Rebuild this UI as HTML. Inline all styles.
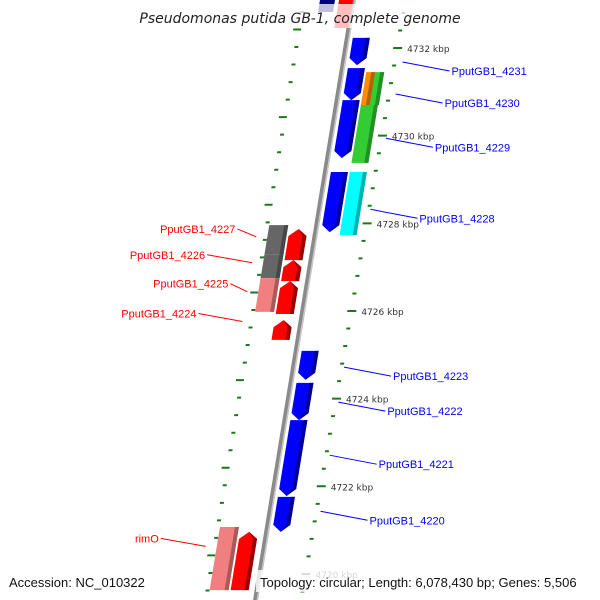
<!DOCTYPE html>
<html><head><meta charset="utf-8"><style>
html,body{margin:0;padding:0;background:#fff;}
svg{display:block;font-family:"DejaVu Sans","Liberation Sans",sans-serif;}
</style></head><body>
<svg id="chart" width="600" height="600" viewBox="0 0 600 600" xmlns="http://www.w3.org/2000/svg">
<g id="map"></g>
<g id="labels"></g>
<rect x="140" y="4" width="330" height="24" fill="#fff" fill-opacity="0.75"/>
<text x="300" y="23" text-anchor="middle" font-size="14" font-style="italic" fill="#222">Pseudomonas putida GB-1, complete genome</text>
<rect x="4" y="570" width="148" height="22" fill="#fff" fill-opacity="0.8"/>
<text x="9" y="587" font-size="13" fill="#111" font-family="Liberation Sans, sans-serif">Accession: NC_010322</text>
<rect x="256" y="570" width="340" height="22" fill="#fff" fill-opacity="0.8"/>
<text x="260" y="587" font-size="13" fill="#111" font-family="Liberation Sans, sans-serif">Topology: circular; Length: 6,078,430 bp; Genes: 5,506</text>
</svg>
<script>
// data (kbp)
const posGenesStart = [4732.23, 4731.54, 4730.81, 4729.17, 4725.09, 4724.36, 4723.51, 4721.76];
const posGenesEnd   = [4731.61, 4730.81, 4729.49, 4727.80, 4724.43, 4723.51, 4721.78, 4720.96];
const ring2Start = [4731.45, 4731.45, 4730.70, 4729.17];
const ring2End   = [4730.70, 4730.70, 4729.38, 4727.73];
const ring2Color = ["#ff8c00", "#33cc33", "#33cc33", "#00ffff"];
const ring2Half  = [1, 2, 0, 0];
const negGenesStart = [4727.87, 4727.16, 4726.68, 4725.79, 4720.96];
const negGenesEnd   = [4727.16, 4726.68, 4725.93, 4725.34, 4719.63];
const negRing2Start = [4727.96, 4727.28, 4726.75, 4721.07];
const negRing2End   = [4727.28, 4726.75, 4725.98, 4719.63];
const negRing2Color = ["#666666", "#666666", "#f08080", "#f08080"];
const tickLabels = [4732, 4730, 4728, 4726, 4724, 4722, 4720];
const rightLabels = ["PputGB1_4231","PputGB1_4230","PputGB1_4229","PputGB1_4228","PputGB1_4223","PputGB1_4222","PputGB1_4221","PputGB1_4220"];
const rightLabelKbp = [4731.68, 4730.95, 4729.94, 4728.32, 4724.72, 4723.92, 4722.71, 4721.43];
const leftLabels = ["PputGB1_4227","PputGB1_4226","PputGB1_4225","PputGB1_4224","rimO"];
const leftLabelKbp = [4727.69, 4727.10, 4726.44, 4725.76, 4720.63];
const leftLeaderLen = [19, 45, 17, 44, 45];

const NS="http://www.w3.org/2000/svg";
const SK=0.1633, X0=354;
function yOf(k){return 48+(4732-k)*43.83;}
function bx(y){return X0-SK*y;}
function drift(y){return -(y-48)*0.011;}
const map=document.getElementById('map'), lab=document.getElementById('labels');
const g=document.createElementNS(NS,'g');
g.setAttribute('transform','matrix(1,0,'+(-SK)+',1,'+X0+',0)');


map.appendChild(g);
function mk(tag,attrs,parent){const e=document.createElementNS(NS,tag);for(const k in attrs)e.setAttribute(k,attrs[k]);parent.appendChild(e);return e;}
function shade(hex,f){const n=parseInt(hex.slice(1),16);let r=n>>16,gg=(n>>8)&255,b=n&255;return 'rgb('+Math.round(r*f)+','+Math.round(gg*f)+','+Math.round(b*f)+')';}

let bb=mk('rect',{x:-3,y:-10,width:5,height:620,fill:'#8a8a8a'},g);


mk('rect',{x:0.5,y:-10,width:1.5,height:620,fill:'#c8c8c8'},g);

let tf=mk('rect',{x:-34,y:-20,width:15,height:32,fill:'#000080'},g);


let tr=mk('rect',{x:-15,y:-20,width:14,height:48,fill:'#ff0000'},g);



// right ticks
for(let i=0;i<=35;i++){
  const k=4733.2-0.4*i; const y=yOf(k);
  const major=Math.abs(k-Math.round(k))<0.01 && Math.round(k)%2===0;
  const t=mk('rect',{x:(major?47:49)+drift(y),y:y-1,width:major?9:4,height:2,fill:'#1a7a1a'},g);
  
  
}
// left ticks
for(let i=0;i<=36;i++){
  const k=4733.6-0.4*i; const y=yOf(k)-1;
  const major=(i%5===3);
  const t=mk('rect',{x:major?-56:-52,y:y-1,width:major?8:4,height:2,fill:'#1a7a1a'},g);
  
  
}

function downArrow(x0,x1,y0,y1,color,name){
  const h=Math.min(7,(y1-y0)/2),m=(x0+x1)/2;
  const p=mk('polygon',{points:[x0,y0,x1,y0,x1,y1-h,m,y1,x0,y1-h].join(' '),fill:color},g);
  
  
  mk('polygon',{points:[x1-4,y0,x1,y0,x1,y1-h,m,y1,m+1,y1-3,x1-4,y1-h].join(' '),fill:shade(color,0.6)},g);
}
function upArrow(x0,x1,y0,y1,color,name){
  const h=Math.min(7,(y1-y0)/2),m=(x0+x1)/2;
  const p=mk('polygon',{points:[x0,y0+h,m,y0,x1,y0+h,x1,y1,x0,y1].join(' '),fill:color},g);
  
  
  mk('polygon',{points:[m,y0,x1,y0+h,x1,y1,x1-4,y1,x1-4,y0+h].join(' '),fill:shade(color,0.6)},g);
}
function box(x0,x1,y0,y1,color,name){
  const p=mk('rect',{x:x0,y:y0,width:x1-x0,height:y1-y0,fill:color},g);
  
  
  mk('rect',{x:x1-4,y:y0,width:4,height:y1-y0,fill:shade(color,0.7)},g);
}
posGenesStart.forEach((s,i)=>downArrow(5,22,yOf(s),yOf(posGenesEnd[i]),'#0000ff','positive-gene'));
ring2Start.forEach((s,i)=>{
  let x0=24,x1=41; if(ring2Half[i]===1){x1=33;} if(ring2Half[i]===2){x0=33;x1=42;}
  box(x0,x1,yOf(s),yOf(ring2End[i]),ring2Color[i],'feature-ring2');
});
negGenesStart.forEach((s,i)=>upArrow(-27,-9,yOf(s),yOf(negGenesEnd[i]),'#ff0000','negative-gene'));
negRing2Start.forEach((s,i)=>box(-48,-29,yOf(s),yOf(negRing2End[i]),negRing2Color[i],'negative-ring2-feature'));

tickLabels.forEach(k=>{
  const y=yOf(k);
  const t=mk('text',{x:bx(y)+61+drift(y),y:y+4,'font-size':9,fill:'#333'},lab);
  t.textContent=k+' kbp';
  
  
});
rightLabels.forEach((name,i)=>{
  const y=yOf(rightLabelKbp[i]);
  const x=bx(y)+50+Math.max(0,(220-y)*0.055);
  const l=mk('line',{x1:x,y1:y,x2:x+47,y2:y+9,stroke:'#0000ff','stroke-width':1},lab);
  
  
  const t=mk('text',{x:x+49,y:y+13,'font-size':11,fill:'#0000ff','font-family':'Liberation Sans, sans-serif'},lab);
  t.textContent=name;
  
  
});
leftLabels.forEach((name,i)=>{
  const y=yOf(leftLabelKbp[i]);const x=bx(y)-59;
  const L=leftLeaderLen[i];
  const l=mk('line',{x1:x,y1:y,x2:x-L,y2:y-8,stroke:'#ff0000','stroke-width':1},lab);
  
  
  const t=mk('text',{x:x-L-2,y:y-4,'font-size':11,fill:'#ff0000','text-anchor':'end','font-family':'Liberation Sans, sans-serif'},lab);
  t.textContent=name;
  
  
});
</script>
</body></html>
